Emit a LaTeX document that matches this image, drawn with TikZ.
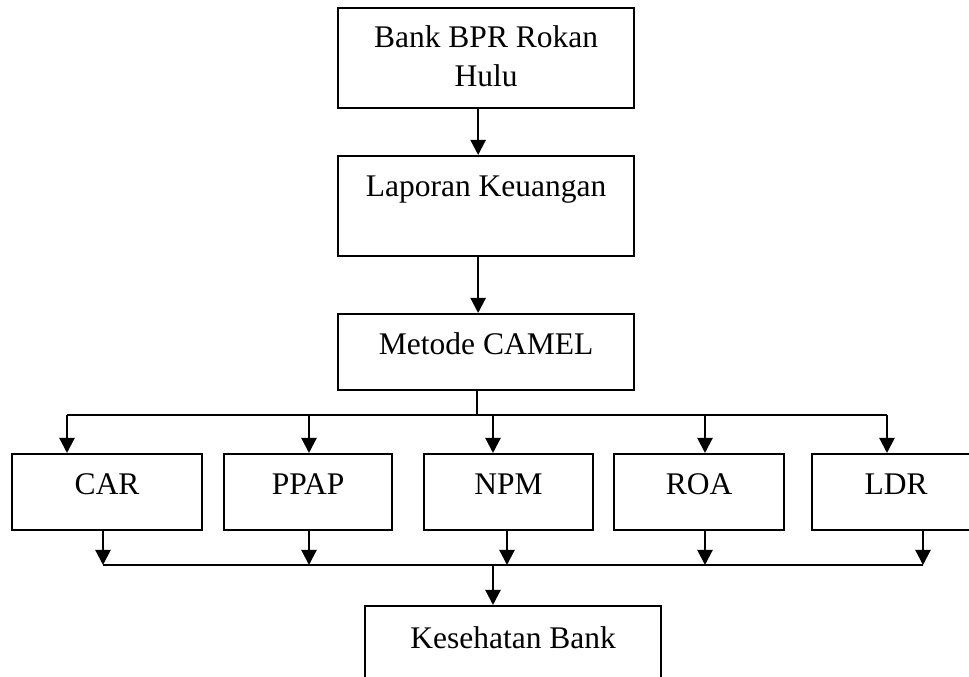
\documentclass[tikz,border=0pt]{standalone}
\usepackage{fontspec}
\setmainfont{Liberation Serif}
\usetikzlibrary{arrows.meta, positioning}

\begin{document}
\begin{tikzpicture}[x=0.4pt, y=-0.4pt, line width=0.9pt,
    >={Triangle[length=6pt, width=6pt]},
    box/.style={draw, inner sep=0pt, anchor=north west, align=center,
      font=\fontsize{12.6}{15.6}\selectfont, text height=16pt, text depth=14.4pt}]
  \useasboundingbox (0,0) rectangle (969,677);
  \clip (0,0) rectangle (969,677);

  % Boxes of the flow
  \node[box, minimum width=118.4pt, text height=31.2pt, text depth=8.8pt] (bank) at (337,7) {Bank BPR Rokan\\Hulu};
  \node[box, minimum width=118.4pt, text depth=24pt] (lapor)  at (337,155) {Laporan Keuangan};
  \node[box, minimum width=118.4pt]                  (metode) at (337,313) {Metode CAMEL};
  \node[box, minimum width=76pt]   (car)  at (11,453)  {CAR};
  \node[box, minimum width=67.2pt] (ppap) at (223,453) {PPAP};
  \node[box, minimum width=67.6pt] (npm)  at (423,453) {NPM};
  \node[box, minimum width=68pt]   (roa)  at (613,453) {ROA};
  \node[box, minimum width=67.2pt] (ldr)  at (811,453) {LDR};
  \node[box, minimum width=118.4pt, text height=16.8pt, text depth=16pt] (sehat) at (364,605) {Kesehatan Bank};

  % Branch points
  \coordinate (split)   at (477,415);
  \coordinate (carIn)   at (67,415);
  \coordinate (ppapIn)  at (309,415);
  \coordinate (npmIn)   at (493,415);
  \coordinate (roaIn)   at (705,415);
  \coordinate (ldrIn)   at (887,415);
  \coordinate (merge)   at (493,565);
  \coordinate (carOut)  at (103,565);
  \coordinate (ppapOut) at (309,565);
  \coordinate (npmOut)  at (507,565);
  \coordinate (roaOut)  at (705,565);
  \coordinate (ldrOut)  at (923,565);

  % Connectors of the flow
  \draw[->] ([xshift=-3.2pt]bank.south)  -- ([xshift=-3.2pt]lapor.north);
  \draw[->] ([xshift=-3.2pt]lapor.south) -- ([xshift=-3.2pt]metode.north);
  \draw (metode.south -| split) -- (split);
  \draw (carIn) -- (ldrIn);
  \draw[->] (carIn)  -- (carIn |- car.north);
  \draw[->] (ppapIn) -- (ppapIn |- ppap.north);
  \draw[->] (npmIn)  -- (npmIn |- npm.north);
  \draw[->] (roaIn)  -- (roaIn |- roa.north);
  \draw[->] (ldrIn)  -- (ldrIn |- ldr.north);
  \draw[->] (car.south -| carOut)   -- (carOut);
  \draw[->] (ppap.south -| ppapOut) -- (ppapOut);
  \draw[->] (npm.south -| npmOut)   -- (npmOut);
  \draw[->] (roa.south -| roaOut)   -- (roaOut);
  \draw[->] (ldr.south -| ldrOut)   -- (ldrOut);
  \draw (carOut) -- (ldrOut);
  \draw[->] (merge) -- (merge |- sehat.north);
\end{tikzpicture}
\end{document}
